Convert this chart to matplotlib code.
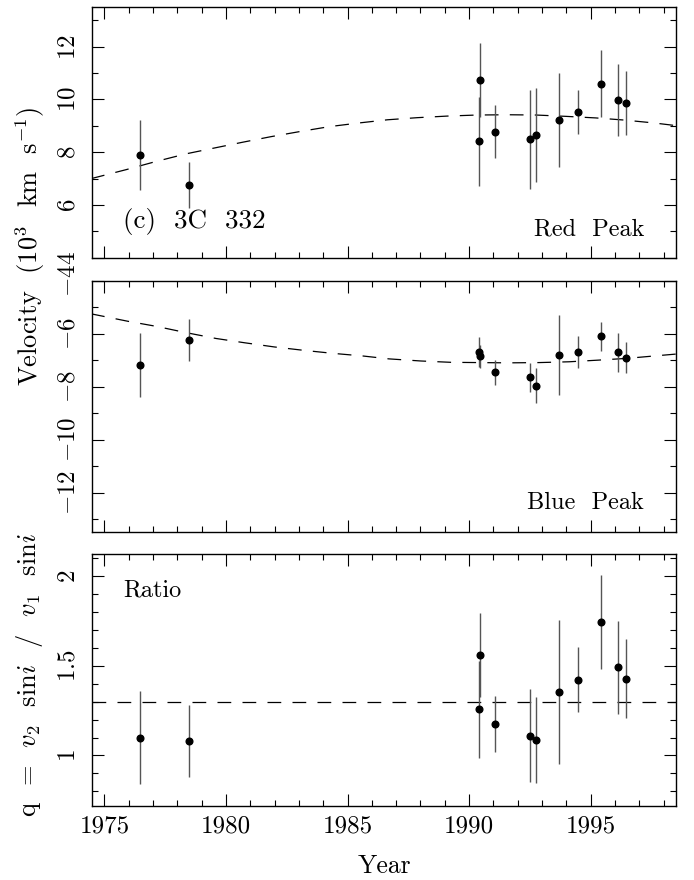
import matplotlib
matplotlib.use("Agg")
import matplotlib.pyplot as plt
from matplotlib.ticker import MultipleLocator, FuncFormatter

plt.rcParams['font.family'] = ['cmr10', 'DejaVu Serif']
plt.rcParams['mathtext.fontset'] = 'cm'
plt.rcParams['axes.formatter.use_mathtext'] = True
plt.rcParams['axes.unicode_minus'] = True

# epochs of the spectra (same for all three panels)
epoch = [1976.48, 1978.49, 1990.40, 1990.44, 1991.08, 1992.51, 1992.76,
         1993.69, 1994.50, 1995.43, 1996.13, 1996.44]

# red peak velocity (10^3 km/s)
red_vel = [7.90, 6.75, 8.41, 10.73, 8.78, 8.49, 8.65, 9.22, 9.53, 10.60, 9.98, 9.86]
red_err = [1.33, 0.87, 1.70, 1.40, 1.00, 1.87, 1.78, 1.78, 0.83, 1.27, 1.35, 1.20]

# blue peak velocity
blue_vel = [-7.18, -6.24, -6.69, -6.86, -7.46, -7.64, -7.96, -6.81, -6.69, -6.09, -6.70, -6.90]
blue_err = [1.20, 0.80, 0.55, 0.45, 0.47, 0.55, 0.67, 1.50, 0.61, 0.55, 0.74, 0.60]

# ratio q
ratio = [1.10, 1.08, 1.257, 1.56, 1.175, 1.11, 1.085, 1.353, 1.423, 1.743, 1.49, 1.427]
ratio_err = [0.26, 0.20, 0.27, 0.235, 0.155, 0.26, 0.24, 0.40, 0.18, 0.26, 0.26, 0.22]

# model curves
red_fit_yr = [1974.45, 1975.89, 1977.12, 1978.36, 1979.52, 1980.69, 1981.85, 1983.08,
              1984.25, 1985.48, 1986.65, 1987.88, 1989.11, 1990.34, 1991.58, 1992.74,
              1993.97, 1995.21, 1996.37, 1997.60, 1998.50]
red_fit = [7.00, 7.34, 7.65, 7.94, 8.16, 8.38, 8.59, 8.79, 8.97, 9.11, 9.23, 9.31,
           9.37, 9.41, 9.42, 9.41, 9.36, 9.30, 9.22, 9.11, 9.01]
blue_fit_yr = [1974.45, 1975.96, 1977.12, 1978.36, 1979.59, 1980.75, 1981.99, 1983.22,
               1984.38, 1985.62, 1986.70, 1988.02, 1989.25, 1990.41, 1991.64, 1992.88,
               1994.11, 1995.27, 1996.51, 1997.74, 1998.50]
blue_fit = [-5.25, -5.53, -5.72, -5.96, -6.18, -6.34, -6.50, -6.63, -6.74, -6.84, -6.95,
            -7.03, -7.08, -7.09, -7.10, -7.09, -7.06, -7.00, -6.93, -6.83, -6.77]
ratio_mean = 1.30

fig = plt.figure(figsize=(6.94, 8.80), dpi=100)
L, R = 0.133, 0.9736
ax1 = fig.add_axes([L, 0.707, R - L, 0.992 - 0.707])
ax2 = fig.add_axes([L, 0.395, R - L, 0.681 - 0.395])
ax3 = fig.add_axes([L, 0.0844, R - L, 0.370 - 0.0844])

fmt = FuncFormatter(lambda v, p: '$%g$' % v)
dash = (0, (11, 9))

for ax in (ax1, ax2, ax3):
    ax.set_xlim(1974.5, 1998.5)
    ax.xaxis.set_major_locator(MultipleLocator(5))
    ax.xaxis.set_minor_locator(MultipleLocator(1))
    ax.tick_params(which='both', direction='in', top=True, right=True, width=0.8,
                   labelsize=18, pad=7)
    ax.tick_params(which='major', length=8.5)
    ax.tick_params(which='minor', length=4.5)
    ax.tick_params(axis='y', labelrotation=90, pad=9)
    ax.yaxis.set_major_formatter(fmt)
    ax.xaxis.set_major_formatter(FuncFormatter(lambda v, p: '%d' % v))
    for s in ax.spines.values():
        s.set_linewidth(1.0)

for ax in (ax1, ax2):
    ax.tick_params(axis='x', labelbottom=False)

ax1.set_ylim(4, 13.5)
ax1.yaxis.set_major_locator(MultipleLocator(2))
ax1.yaxis.set_minor_locator(MultipleLocator(1))
ax2.set_ylim(-13.5, -4)
ax2.yaxis.set_major_locator(MultipleLocator(2))
ax2.yaxis.set_minor_locator(MultipleLocator(1))
ax3.set_ylim(0.72, 2.12)
ax3.yaxis.set_major_locator(MultipleLocator(0.5))
ax3.yaxis.set_minor_locator(MultipleLocator(0.1))

eb = dict(fmt='o', ms=4.8, color='black', ecolor='#555555', elinewidth=1.0,
          capsize=0, zorder=3)
ax1.errorbar(epoch, red_vel, yerr=red_err, **eb)
ax1.plot(red_fit_yr, red_fit, color='black', lw=0.9, linestyle=dash)
ax2.errorbar(epoch, blue_vel, yerr=blue_err, **eb)
ax2.plot(blue_fit_yr, blue_fit, color='black', lw=0.9, linestyle=dash)
ax3.errorbar(epoch, ratio, yerr=ratio_err, **eb)
ax3.axhline(ratio_mean, color='black', lw=0.9, linestyle=dash)

for ax in (ax1, ax2, ax3):
    for lab in ax.get_yticklabels():
        lab.set_va('center')

ax1.text(0.053, 0.143, '(c)  3C  332', transform=ax1.transAxes, fontsize=19.5,
         ha='left', va='center')
ax1.text(0.946, 0.112, 'Red  Peak', transform=ax1.transAxes, fontsize=17.5,
         ha='right', va='center')
ax2.text(0.946, 0.117, 'Blue  Peak', transform=ax2.transAxes, fontsize=17.5,
         ha='right', va='center')
ax3.text(0.053, 0.857, 'Ratio', transform=ax3.transAxes, fontsize=17.5,
         ha='left', va='center')

fig.text(0.043, 1 - 247 / 880, r'Velocity  (10$^3$  km  s$^{-1}$)', rotation=90,
         ha='center', va='center', fontsize=19)
fig.text(0.043, 1 - 675 / 880, r'q  =  $v_2$  sin$i$  /  $v_1$  sin$i$', rotation=90,
         ha='center', va='center', fontsize=19)
fig.text((L + R) / 2, 1 - 866 / 880, 'Year', ha='center', va='center', fontsize=18.5)

fig.savefig('out.png', dpi=100)
